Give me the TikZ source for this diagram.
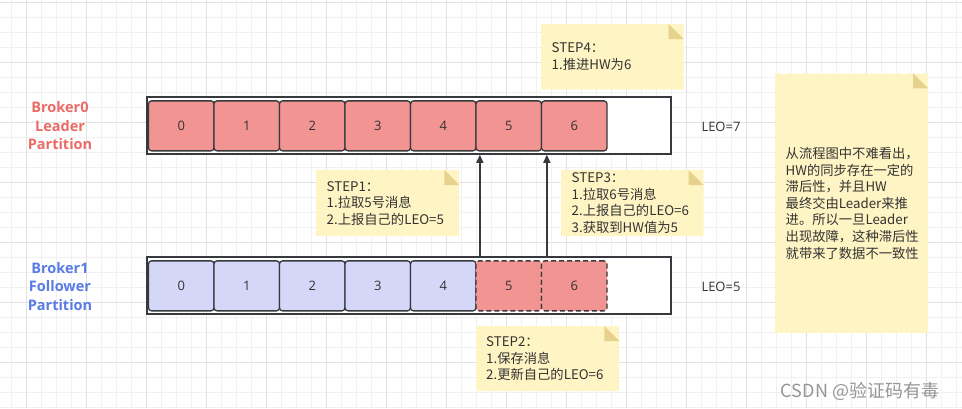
\documentclass[tikz,border=0pt]{standalone}
\usepackage{fontspec}
\setmainfont{Open Sans}
\newfontfamily\cjk{Noto Sans CJK SC}
\usetikzlibrary{arrows.meta,shapes.misc}

\definecolor{gridminor}{RGB}{241,241,241}
\definecolor{gridmajor}{RGB}{226,226,226}
\definecolor{cellred}{RGB}{241,148,146}
\definecolor{cellblue}{RGB}{212,215,248}
\definecolor{edgegray}{RGB}{54,57,61}
\definecolor{txtgray}{RGB}{51,51,51}
\definecolor{notefill}{RGB}{255,244,195}
\definecolor{notefold}{RGB}{230,210,140}
\definecolor{leadred}{RGB}{234,107,102}
\definecolor{followblue}{RGB}{88,124,230}
\definecolor{markgray}{RGB}{150,150,150}

\begin{document}
\begin{tikzpicture}[x=1pt,y=-1pt,
  minorgrid/.style={gridminor,line width=1pt},
  majorgrid/.style={gridmajor,line width=1pt},
  row/.style={draw=edgegray,line width=1.5pt,fill=white,minimum width=524pt,minimum height=57pt,inner sep=0pt},
  cell/.style={draw=edgegray,line width=1.3pt,rounded corners=3pt,minimum width=65.5pt,minimum height=50pt,inner sep=0pt,text=txtgray,font=\fontsize{13}{16}\selectfont},
  lcell/.style={cell,fill=cellred},
  fcell/.style={cell,fill=cellblue},
  lagcell/.style={cell,fill=cellred,dash pattern=on 5pt off 3pt},
  partlabel/.style={align=center,font=\bfseries\fontsize{14.5}{18.5}\selectfont},
  leotext/.style={text=txtgray,font=\fontsize{13}{16}\selectfont},
  notebox/.style={chamfered rectangle,chamfered rectangle corners=north east,chamfered rectangle xsep=15pt,chamfered rectangle ysep=15pt,fill=notefill,inner sep=0pt,anchor=north west},
  notetext/.style={align=left,anchor=west,inner sep=0pt,text=txtgray,font=\cjk\fontsize{13.3}{16.6}\selectfont},
  push/.style={draw=edgegray,line width=1.5pt,-{Triangle[length=8pt,width=7pt]}}]
\useasboundingbox (0,0) rectangle (962,408);
\fill[white] (0,0) rectangle (962,408);

% Background grid
\foreach \i in {0,...,63} \draw[minorgrid] ({11.7+15*\i},0) -- ({11.7+15*\i},408);
\foreach \i in {0,...,27} \draw[minorgrid] (0,{2.3+15*\i}) -- (962,{2.3+15*\i});
\foreach \i in {0,...,15} \draw[majorgrid] ({26.7+60*\i},0) -- ({26.7+60*\i},408);
\foreach \i in {0,...,6} \draw[majorgrid] (0,{2.3+60*\i}) -- (962,{2.3+60*\i});

% Partition rows
\node[row] (leader) at (409,125.5) {};
\node[row] (follower) at (409,285.4) {};
\foreach \i in {0,...,6} \node[lcell] (l\i) at ({181.25+65.5*\i},125.85) {\i};
\foreach \i in {0,...,4} \node[fcell] (f\i) at ({181.25+65.5*\i},285.85) {\i};
\foreach \i in {5,6} \node[lagcell] (f\i) at ({181.25+65.5*\i},285.85) {\i};

% Row labels and LEO
\node[partlabel,text=leadred] (lname) at (60,125.8) {Broker0\\Leader\\Partition};
\node[partlabel,text=followblue] (fname) at (60,286.2) {Broker1\\Follower\\Partition};
\node[leotext] (leo0) at (721,126.7) {LEO=7};
\node[leotext] (leo1) at (721,286.7) {LEO=5};

% Fetch arrows
\coordinate (a5) at ([xshift=4.5pt]f5.north west);
\coordinate (a6) at ([xshift=6pt]f6.north west);
\draw[push] (a5 |- follower.north) -- (a5 |- leader.south);
\draw[push] (a6 |- follower.north) -- (a6 |- leader.south);

% Sticky notes
\node[notebox,minimum width=143pt,minimum height=66pt] (s1) at (316,170) {};
\node[notebox,minimum width=143pt,minimum height=65pt] (s2) at (476,326) {};
\node[notebox,minimum width=142.3pt,minimum height=66pt] (s3) at (561,170) {};
\node[notebox,minimum width=142.3pt,minimum height=65.3pt] (s4) at (541,24) {};
\node[notebox,minimum width=152.7pt,minimum height=259.4pt] (sum) at (775,73.3) {};
\foreach \n in {s1,s2,s3,s4,sum} {
  \coordinate (c) at (\n.north -| \n.east);
  \fill[notefold] ([xshift=-15pt]c) -- ([xshift=-15pt,yshift=-15pt]c) -- ([yshift=-15pt]c) -- cycle;
}
\node[notetext] (t1) at ([xshift=10.5pt]s1.west) {STEP1：\\1.拉取5号消息\\2.上报自己的LEO=5};
\node[notetext] (t2) at ([xshift=10pt]s2.west) {STEP2：\\1.保存消息\\2.更新自己的LEO=6};
\node[notetext] (t3) at ([xshift=10.5pt]s3.west) {STEP3：\\1.拉取6号消息\\2.上报自己的LEO=6\\3.获取到HW值为5};
\node[notetext] (t4) at ([xshift=10.5pt]s4.west) {STEP4：\\1.推进HW为6};
\node[notetext] (tsum) at ([xshift=10.5pt]sum.west) {从流程图中不难看出，\\HW的同步存在一定的\\滞后性，并且HW\\最终交由Leader来推\\进。所以一旦Leader\\出现故障，这种滞后性\\就带来了数据不一致性};

% Watermark
\node[font=\cjk\fontsize{18}{20}\selectfont,text=markgray] (mark) at (860,391) {CSDN @验证码有毒};
\end{tikzpicture}
\end{document}
